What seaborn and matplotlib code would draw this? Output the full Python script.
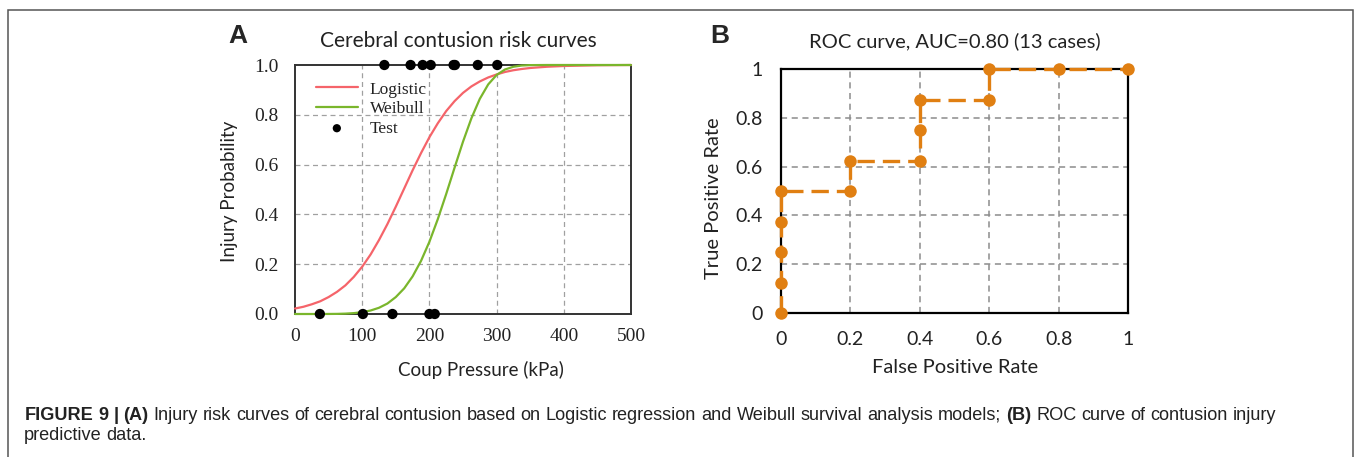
# Injury risk curves + ROC curve, recreated with seaborn.

import pandas as pd
import seaborn as sns
import matplotlib.pyplot as plt
import numpy as np
from matplotlib.patches import Rectangle

# values
pressure_kpa = [0, 12.5, 25, 37.5, 50, 62.5, 75, 87.5, 100, 112.5, 125, 137.5, 150,
                162.5, 175, 187.5, 200, 212.5, 225, 237.5, 250, 262.5, 275, 287.5,
                300, 312.5, 325, 337.5, 350, 375, 400, 450, 500]
logistic_prob = [0.022, 0.029, 0.039, 0.051, 0.068, 0.089, 0.115, 0.149, 0.190, 0.239,
                 0.297, 0.361, 0.431, 0.504, 0.577, 0.646, 0.710, 0.766, 0.815, 0.855,
                 0.888, 0.914, 0.934, 0.950, 0.962, 0.972, 0.979, 0.984, 0.988, 0.993,
                 0.996, 0.999, 1.0]
weibull_prob = [0.0, 0.0, 0.0, 0.0, 0.0002, 0.0005, 0.0015, 0.0035, 0.0074, 0.014,
                0.025, 0.042, 0.068, 0.103, 0.151, 0.213, 0.290, 0.381, 0.482, 0.588,
                0.692, 0.786, 0.864, 0.922, 0.960, 0.982, 0.993, 0.998, 0.9995, 1.0,
                1.0, 1.0, 1.0]
test_injury_kpa = [133, 172, 190, 202, 236, 238, 272, 301]
test_no_injury_kpa = [37, 101, 145, 200, 208]

roc_fpr = [0, 0, 0, 0, 0, 0.2, 0.2, 0.4, 0.4, 0.4, 0.6, 0.6, 0.8, 1.0]
roc_tpr = [0, 0.125, 0.25, 0.375, 0.5, 0.5, 0.625, 0.625, 0.75, 0.875, 0.875, 1.0, 1.0, 1.0]

roc_ticks = [0, 0.2, 0.4, 0.6, 0.8, 1.0]
roc_tick_labels = ["0", "0.2", "0.4", "0.6", "0.8", "1"]

sns.set_style("white")
plt.rcParams['font.family'] = ['Lato', 'DejaVu Sans']
plt.rcParams['lines.solid_joinstyle'] = 'round'

W, H = 1356, 457
fig = plt.figure(figsize=(W / 100, H / 100), dpi=100)

def box(x0, y0, x1, y1):
    # pixel box (top-left origin) -> figure fractions
    return [x0 / W, 1 - y1 / H, (x1 - x0) / W, (y1 - y0) / H]

serif = 'Liberation Serif'
grid_kw = dict(color='#a0a0a0', linestyle=(0, (4, 3)), linewidth=0.9)

# ---------- panel A ----------
axA = fig.add_axes(box(295, 65, 631, 314))
curves = pd.DataFrame({'p': pressure_kpa * 2,
                       'prob': logistic_prob + weibull_prob,
                       'model': ['Logistic'] * len(pressure_kpa) + ['Weibull'] * len(pressure_kpa)})
sns.lineplot(data=curves, x='p', y='prob', hue='model',
             palette={'Logistic': '#f5646a', 'Weibull': '#7ab62c'},
             linewidth=1.6, ax=axA, zorder=3, clip_on=False)
tests = pd.DataFrame({'p': test_injury_kpa + test_no_injury_kpa,
                      'prob': [1.0] * len(test_injury_kpa) + [0.0] * len(test_no_injury_kpa)})
sns.scatterplot(data=tests, x='p', y='prob', color='black', s=55, edgecolor='none',
                ax=axA, zorder=5, clip_on=False, label='Test')
axA.set_xlim(0, 500)
axA.set_ylim(0, 1)
axA.set_xticks([0, 100, 200, 300, 400, 500])
axA.set_yticks([0, 0.2, 0.4, 0.6, 0.8, 1.0])
axA.set_yticklabels(["0.0", "0.2", "0.4", "0.6", "0.8", "1.0"])
for v in [100, 200, 300, 400]:
    axA.axvline(v, **grid_kw, zorder=1)
for v in [0.2, 0.4, 0.6, 0.8]:
    axA.axhline(v, **grid_kw, zorder=1)
axA.tick_params(direction='in', length=4, width=1, color='#333333', labelsize=14)
axA.tick_params(axis='y', pad=12)
axA.tick_params(axis='x', pad=10)
for lab in axA.get_xticklabels() + axA.get_yticklabels():
    lab.set_fontfamily(serif)
    lab.set_color('#222222')
for s in axA.spines.values():
    s.set_color('#333333')
    s.set_linewidth(1.4)
axA.set_xlabel('Coup Pressure (kPa)', fontsize=13.5, color='#222222')
axA.xaxis.set_label_coords((481 - 295) / 336, -(361 - 314) / 249)
axA.set_ylabel('Injury Probability', fontsize=13.5, color='#222222')
axA.yaxis.set_label_coords(-(295 - 238) / 336, (314 - 191) / 249)
axA.set_title('Cerebral contusion risk curves', fontsize=15, color='#222222', pad=13,
              x=(458 - 295) / 336)
leg = axA.legend(loc='upper left', bbox_to_anchor=(0.016, 0.997), frameon=False,
                 prop={'family': serif, 'size': 12.5}, handlelength=2.4,
                 handletextpad=0.7, labelspacing=0.2, markerscale=0.8)
for t in leg.get_texts():
    t.set_color('#222222')
fig.text(228 / W, 1 - 36 / H, 'A', fontsize=19, fontweight='bold',
         family='Liberation Sans', va='center', ha='left')

# ---------- panel B ----------
axB = fig.add_axes(box(781, 69, 1128, 313))
roc = pd.DataFrame({'fpr': roc_fpr, 'tpr': roc_tpr})
sns.lineplot(data=roc, x='fpr', y='tpr', sort=False, estimator=None, color='#e07f12',
             linewidth=2.4, linestyle=(0, (5.2, 2.4)), marker='o', markersize=9,
             markeredgewidth=0, ax=axB, zorder=4, clip_on=False)
axB.set_xlim(0, 1)
axB.set_ylim(0, 1)
axB.set_xticks(roc_ticks)
axB.set_xticklabels(roc_tick_labels)
axB.set_yticks(roc_ticks)
axB.set_yticklabels(roc_tick_labels)
for v in [0.2, 0.4, 0.6, 0.8]:
    axB.axvline(v, color='#8c8c8c', linestyle=(0, (4, 3)), linewidth=1.1, zorder=1)
    axB.axhline(v, color='#8c8c8c', linestyle=(0, (4, 3)), linewidth=1.1, zorder=1)
axB.tick_params(length=0, labelsize=14, pad=13, labelcolor='#222222')
for s in axB.spines.values():
    s.set_color('black')
    s.set_linewidth(1.6)
axB.set_xlabel('False Positive Rate', fontsize=14.5, color='#222222')
axB.xaxis.set_label_coords((955 - 781) / 347, -(359 - 313) / 244)
axB.set_ylabel('True Positive Rate', fontsize=14.5, color='#222222')
axB.yaxis.set_label_coords(-(781 - 722) / 347, (313 - 198) / 244)
axB.set_title('ROC curve, AUC=0.80 (13 cases)', fontsize=14.5, color='#222222', pad=16)
fig.text(710 / W, 1 - 36 / H, 'B', fontsize=19, fontweight='bold',
         family='Liberation Sans', va='center', ha='left')

# ---------- frame + caption ----------
fig.add_artist(Rectangle((8 / W, -0.1), (1353 - 8) / W, (H - 10) / H + 0.1,
                         transform=fig.transFigure, fill=False,
                         edgecolor='#555555', linewidth=1.1))

fig.canvas.draw()
renderer = fig.canvas.get_renderer()

def caption_line(pieces, x_px, y_px, right_px=None, size=13.1):
    # lay out words one by one; if right_px is given the line is justified
    words = []
    for txt, bold in pieces:
        for w in txt.split():
            words.append((w, bold))
    arts = []
    for w, bold in words:
        t = fig.text(0, 0, w, fontsize=size, family='Liberation Sans',
                     fontweight='bold' if bold else 'normal', color='#222222',
                     va='baseline', ha='left')
        arts.append((t, t.get_window_extent(renderer).width))
    space = fig.text(0, 0, 'a a', fontsize=size, family='Liberation Sans')
    gap = space.get_window_extent(renderer).width
    aa = fig.text(0, 0, 'aa', fontsize=size, family='Liberation Sans')
    gap -= aa.get_window_extent(renderer).width
    space.remove()
    aa.remove()
    if right_px is not None and len(arts) > 1:
        gap = (right_px - x_px - sum(w for _, w in arts)) / (len(arts) - 1)
    x = x_px
    for t, w in arts:
        t.set_position((x / W, 1 - y_px / H))
        x += w + gap

caption1 = [("FIGURE 9 | (A)", True),
            ("Injury risk curves of cerebral contusion based on Logistic regression and "
             "Weibull survival analysis models;", False),
            ("(B)", True),
            ("ROC curve of contusion injury", False)]
caption2 = [("predictive data.", False)]
caption_line(caption1, 25, 420, right_px=1276)
caption_line(caption2, 24, 440)

fig.savefig('out.png', dpi=100)
